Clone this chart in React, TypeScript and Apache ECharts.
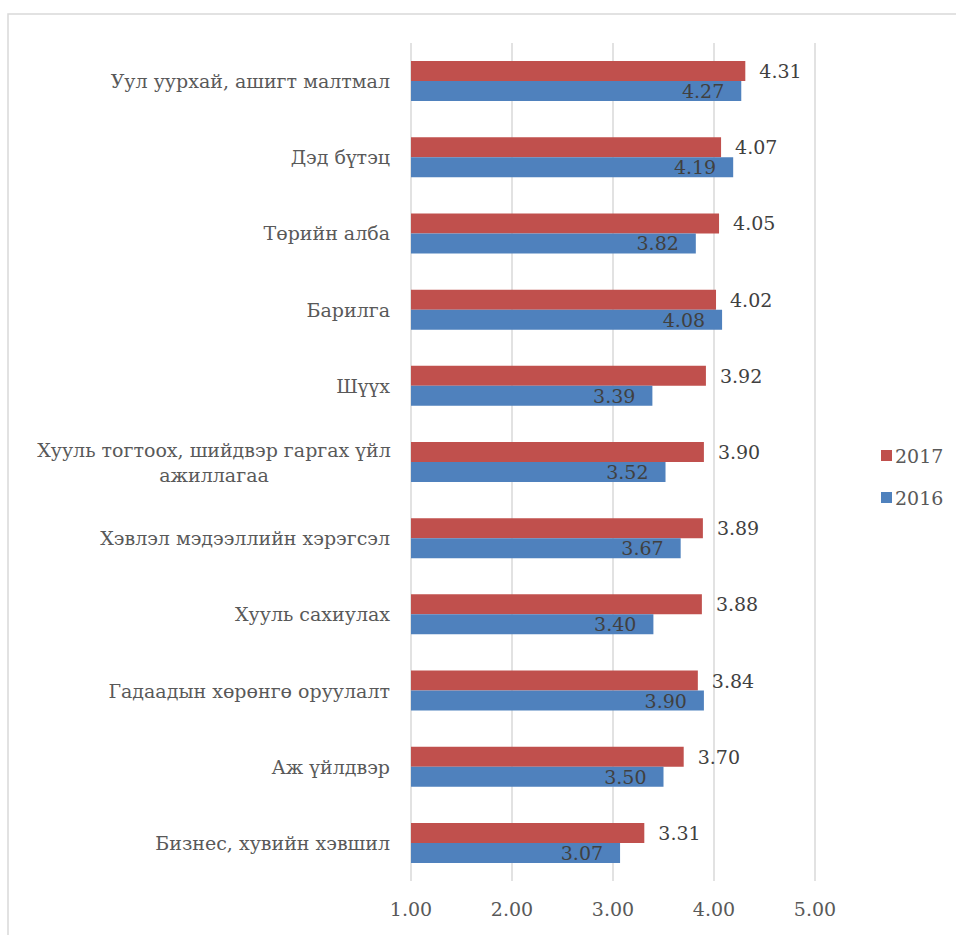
import React, { useEffect, useRef } from "react";
import * as echarts from "echarts";

const categories = [
  "Уул уурхай, ашигт малтмал",
  "Дэд бүтэц",
  "Төрийн алба",
  "Барилга",
  "Шүүх",
  "Хууль тогтоох, шийдвэр гаргах үйл\nажиллагаа",
  "Хэвлэл мэдээллийн хэрэгсэл",
  "Хууль сахиулах",
  "Гадаадын хөрөнгө оруулалт",
  "Аж үйлдвэр",
  "Бизнес, хувийн хэвшил",
];
const values2017 = [4.31, 4.07, 4.05, 4.02, 3.92, 3.9, 3.89, 3.88, 3.84, 3.7, 3.31];
const values2016 = [4.27, 4.19, 3.82, 4.08, 3.39, 3.52, 3.67, 3.4, 3.9, 3.5, 3.07];
const seriesNames = ["2017", "2016"];
const xTicks = { min: 1, max: 5, interval: 1 };

const FONT = "DejaVu Serif";
const FS = 19;

export default function App() {
  const ref = useRef<HTMLDivElement>(null);
  useEffect(() => {
    if (!ref.current) return;
    const chart = echarts.init(ref.current, null, { renderer: "svg" });
    chart.setOption({
      animation: false,
      backgroundColor: "#ffffff",
      textStyle: { fontFamily: FONT },
      graphic: [
        {
          type: "rect",
          shape: { x: 8, y: 14, width: 1000, height: 1000 },
          style: { fill: "none", stroke: "#d9d9d9", lineWidth: 1.5 },
          silent: true,
        },
      ],
      legend: {
        orient: "vertical",
        left: 876,
        top: 441,
        itemWidth: 11,
        itemHeight: 11,
        itemGap: 23,
        icon: "rect",
        data: seriesNames,
        textStyle: { fontFamily: FONT, fontSize: FS, color: "#595959", padding: [0, 0, 0, -2] },
      },
      grid: { left: 411, right: 141, top: 43, bottom: 54, containLabel: false },
      xAxis: {
        type: "value",
        min: xTicks.min,
        max: xTicks.max,
        interval: xTicks.interval,
        axisLine: { show: false },
        axisTick: { show: false },
        splitLine: { lineStyle: { color: "#d9d9d9", width: 1.5 } },
        axisLabel: {
          formatter: (v: number) => v.toFixed(2),
          fontFamily: FONT,
          fontSize: FS,
          color: "#595959",
          margin: 18,
        },
      },
      yAxis: {
        type: "category",
        data: categories,
        inverse: true,
        axisLine: { show: false },
        axisTick: { show: false },
        axisLabel: {
          fontFamily: FONT,
          fontSize: FS,
          color: "#595959",
          margin: 21,
          lineHeight: 25,
          formatter: (v: string) => {
            if (v.indexOf("\n") >= 0) {
              return v
                .split("\n")
                .map((l) => "{w|" + l + "}")
                .join("\n");
            }
            return v;
          },
          rich: {
            w: {
              width: 352,
              align: "center",
              fontFamily: FONT,
              fontSize: FS,
              color: "#595959",
              lineHeight: 25,
            },
          },
        },
      },
      series: [
        {
          name: seriesNames[0],
          type: "bar",
          data: values2017,
          barWidth: 20,
          barGap: "0%",
          itemStyle: { color: "#c0504d" },
          label: {
            show: true,
            position: "right",
            distance: 14,
            formatter: (p: any) => p.value.toFixed(2),
            fontFamily: FONT,
            fontSize: FS,
            color: "#404040",
          },
        },
        {
          name: seriesNames[1],
          type: "bar",
          data: values2016,
          barWidth: 20,
          barGap: "0%",
          itemStyle: { color: "#4f81bd" },
          label: {
            show: true,
            position: "insideRight",
            distance: 17,
            formatter: (p: any) => p.value.toFixed(2),
            fontFamily: FONT,
            fontSize: FS,
            color: "#404040",
          },
        },
      ],
    });
    return () => chart.dispose();
  }, []);
  return (
    <div
      ref={ref}
      style={{ position: "fixed", left: 0, top: 0, width: 956, height: 935 }}
    />
  );
}
